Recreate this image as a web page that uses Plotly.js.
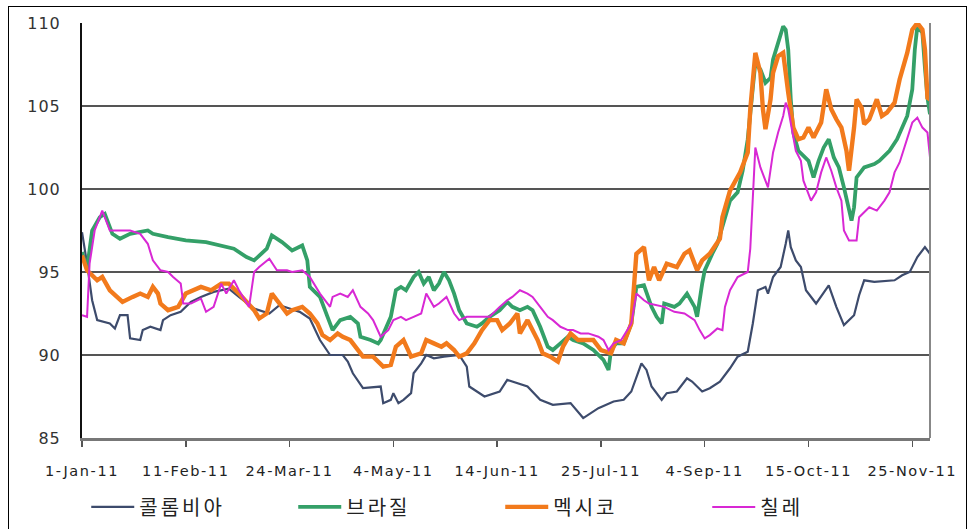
<!DOCTYPE html>
<html>
<head>
<meta charset="utf-8">
<script src="https://cdn.plot.ly/plotly-3.0.1.min.js"></script>
<style>
  html, body { margin: 0; padding: 0; background: #fff; }
  #wrap { position: relative; width: 971px; height: 529px; overflow: hidden; }
  #chart { position: absolute; left: 0; top: 0; width: 971px; height: 529px; }
  #frame { position: absolute; left: 8px; top: 6px; width: 959px; height: 540px; border: 1.5px solid #000; pointer-events: none; box-sizing: border-box; }
  .xtick text { letter-spacing: 1.6px; }
  .ytick text { letter-spacing: 1px; }
  .legendtext { letter-spacing: 3px; }
</style>
</head>
<body>
<div id="wrap">
  <div id="chart"></div>
  <div id="frame"></div>
</div>
<script>
// Series names (legend)
const seriesNames = ['콜롬비아', '브라질', '멕시코', '칠레'];

// Day offsets from 1-Jan-2011 and index values
const colombiaDays = [0,2,4,6,11,13,15,18,19,23,24,27,31,32,35,39,43,47,52,58,62,68,74,78,82,86,90,94,98,103,105,107,111,118,119,122,123,125,127,130,131,134,136,139,143,149,152,153,159,165,168,176,181,186,193,198,204,210,214,217,221,223,225,229,231,235,239,241,245,248,252,256,259,263,265,267,270,271,273,276,278,279,280,282,284,286,290,295,298,301,305,307,309,313,321,324,327,330,333,335];
const colombiaVals = [97.4,95.5,93.3,92.1,91.9,91.6,92.4,92.4,91.0,90.9,91.5,91.7,91.5,92.1,92.4,92.6,93.2,93.5,93.8,94.0,93.5,92.8,92.5,93.0,92.8,92.6,92.2,90.9,90.0,90.0,89.6,88.9,88.0,88.1,87.1,87.3,87.7,87.1,87.3,87.7,88.9,89.5,90.0,89.8,89.9,90.0,89.3,88.1,87.5,87.8,88.5,88.1,87.3,87.0,87.1,86.2,86.8,87.2,87.3,87.8,89.5,89.1,88.1,87.3,87.7,87.8,88.6,88.4,87.8,88.0,88.4,89.2,89.9,90.2,91.9,93.9,94.1,93.7,94.7,95.3,96.7,97.5,96.5,95.7,95.3,93.9,93.1,94.2,92.9,91.8,92.4,93.6,94.5,94.4,94.5,94.8,95.0,95.9,96.5,96.1];

const brazilDays = [0,2,4,7,9,12,15,19,26,28,34,41,49,60,65,68,73,75,79,83,87,89,90,94,97,99,102,106,109,110,114,117,118,121,122,124,126,128,131,133,135,137,139,141,143,145,147,149,152,156,158,161,165,168,170,173,176,178,181,184,186,189,192,194,198,202,206,208,209,211,214,217,219,222,225,227,229,230,234,236,239,242,243,245,246,249,251,256,259,261,263,265,266,268,270,272,273,275,277,278,279,280,281,283,287,289,291,293,295,297,299,301,303,304,305,306,309,313,315,319,322,324,326,328,329,330,332,333,334,335];
const brazilVals = [96.2,95.2,97.5,98.3,98.5,97.3,97.0,97.3,97.5,97.3,97.1,96.9,96.8,96.4,95.9,95.7,96.4,97.2,96.8,96.3,96.6,95.7,94.1,93.5,92.3,91.5,92.1,92.3,91.9,91.1,90.9,90.7,90.9,91.9,92.3,93.9,94.1,93.9,94.7,95.0,94.3,94.7,93.9,94.3,95.0,94.5,93.7,92.7,91.9,91.7,91.9,92.3,92.7,93.2,92.9,92.7,92.9,92.7,91.7,90.5,90.3,90.7,91.1,90.9,90.7,90.3,89.7,89.1,90.3,90.7,90.7,91.9,94.1,94.2,92.9,92.3,91.9,93.1,92.9,93.1,93.7,92.9,92.3,94.3,95.1,96.1,96.7,99.3,99.8,101.1,103.0,106.1,107.6,107.2,106.4,106.7,107.8,108.8,109.8,109.6,108.4,105.4,103.4,102.3,101.7,100.7,101.7,102.5,103.0,101.9,101.3,100.1,98.6,98.1,98.9,100.7,101.3,101.5,101.7,102.3,103.0,103.7,104.4,106.0,108.4,109.8,109.4,107.3,105.5,104.5];

const mexicoDays = [0,2,6,8,11,14,16,20,23,26,28,30,31,34,38,41,47,51,55,58,62,68,70,73,75,78,81,83,87,90,93,95,98,101,103,106,109,111,115,119,122,124,127,130,134,136,139,142,144,147,149,152,155,158,161,164,166,169,172,173,176,180,182,185,188,190,193,196,198,202,205,209,211,214,217,219,222,224,226,228,231,235,238,240,243,245,248,252,253,256,260,263,264,266,268,269,270,272,273,275,277,278,279,281,283,285,287,289,292,294,296,298,300,302,303,305,306,308,309,311,314,316,318,321,323,326,328,330,332,333,334,335];
const mexicoVals = [96.0,95.1,94.5,94.7,93.9,93.5,93.2,93.5,93.7,93.5,94.1,93.7,93.1,92.7,92.9,93.7,94.1,93.9,94.3,94.3,93.7,92.7,92.2,92.5,93.7,93.1,92.5,92.7,92.9,92.5,91.9,91.2,90.9,91.3,91.1,90.9,90.3,89.9,89.9,89.3,89.4,90.5,90.9,89.9,90.1,90.9,90.7,90.5,90.7,90.3,89.9,90.1,90.7,91.5,92.1,92.1,91.5,91.9,92.5,91.3,92.1,90.9,90.1,89.9,89.6,90.5,91.3,90.9,90.9,90.9,90.3,90.1,90.9,90.7,91.9,96.1,96.5,94.5,95.3,94.5,95.5,95.3,96.1,96.3,95.1,95.7,96.1,97.0,98.3,99.9,101.0,102.2,104.8,108.2,107.0,104.8,103.6,105.4,107.0,108.0,108.2,107.2,105.8,103.7,103.0,103.1,103.7,103.1,104.0,106.0,104.8,104.2,103.7,102.3,101.1,103.7,105.4,104.9,103.9,104.2,105.4,104.4,104.6,105.2,106.6,108.2,109.6,110.0,109.6,108.4,105.5,105.4];

const chileDays = [0,2,3,5,8,11,19,23,26,28,31,34,36,39,40,43,47,49,52,55,57,60,62,66,68,70,74,77,81,83,87,90,94,98,99,102,105,107,110,113,115,118,121,123,126,128,131,134,136,139,141,144,147,149,152,157,161,165,168,170,173,176,178,181,184,186,189,192,194,197,200,204,206,208,210,213,217,219,222,224,230,234,238,242,244,246,248,251,253,254,256,259,263,264,265,266,268,270,271,273,275,277,278,279,281,282,284,285,288,290,292,294,296,298,300,301,303,306,307,309,311,314,317,319,321,323,326,328,330,332,334,335];
const chileVals = [92.4,92.3,95.5,97.5,98.7,97.5,97.5,97.3,96.7,95.7,95.1,95.0,94.7,94.3,93.1,93.1,93.4,92.6,92.9,94.3,93.7,94.5,93.9,92.9,95.0,95.3,95.8,95.1,95.1,95.0,95.1,94.7,93.7,92.9,93.5,93.7,93.5,93.9,92.9,92.5,92.1,91.1,91.5,92.1,92.3,92.1,92.3,92.5,93.7,92.9,93.1,93.5,92.5,92.1,92.3,92.3,92.3,92.9,93.3,93.5,93.9,93.7,93.5,92.9,92.3,92.1,91.7,91.5,91.5,91.3,91.3,91.1,90.9,90.3,90.7,90.9,91.9,93.7,93.3,93.1,92.9,92.6,92.5,92.1,91.5,91.0,91.2,91.6,91.5,92.9,93.9,94.7,95.0,96.4,99.8,102.5,101.3,100.5,100.1,102.2,103.4,104.4,105.2,104.8,103.0,102.3,101.7,100.5,99.3,99.8,101.0,101.9,101.1,100.1,99.3,97.5,96.9,96.9,98.3,98.6,98.9,98.7,99.3,99.8,101.0,101.6,103.0,104.0,104.3,103.7,103.4,101.9];

// Axis ticks
const tickDays = [0,41,82,123,164,205,246,287,328];
const tickLabels = ['1-Jan-11','11-Feb-11','24-Mar-11','4-May-11','14-Jun-11','25-Jul-11','4-Sep-11','15-Oct-11','25-Nov-11'];
const yTicks = [85,90,95,100,105,110];

function toDate(d) {
  const t = new Date(Date.UTC(2011, 0, 1 + d));
  return t.toISOString().slice(0, 10);
}

const colors = ['#3d4b6c', '#34a068', '#f27a1c', '#d828d4'];
const widths = [2.2, 3.8, 4.4, 2];
const allDays = [colombiaDays, brazilDays, mexicoDays, chileDays];
const allVals = [colombiaVals, brazilVals, mexicoVals, chileVals];

const traces = seriesNames.map((n, i) => ({
  type: 'scatter',
  mode: 'lines',
  name: n,
  x: allDays[i].map(toDate),
  y: allVals[i],
  line: { color: colors[i], width: widths[i] },
  hoverinfo: 'skip'
}));

const layout = {
  width: 971, height: 529,
  margin: { l: 82, r: 41, t: 23, b: 91, autoexpand: false },
  paper_bgcolor: 'rgba(0,0,0,0)',
  plot_bgcolor: 'rgba(0,0,0,0)',
  showlegend: true,
  font: { family: 'Liberation Sans, Arial, sans-serif', color: '#222' },
  xaxis: {
    type: 'date',
    range: [toDate(0), toDate(335)],
    tickvals: tickDays.map(toDate),
    ticktext: tickLabels,
    showgrid: false,
    zeroline: false,
    showline: true,
    linecolor: '#777',
    linewidth: 3,
    ticks: 'outside',
    ticklen: 6,
    tickwidth: 1.5,
    tickcolor: '#555',
    ticklabelstandoff: 12,
    automargin: false,
    tickfont: { size: 14.5, color: '#222', family: 'DejaVu Sans, sans-serif' }
  },
  yaxis: {
    range: [85, 110],
    tickvals: yTicks,
    showgrid: true,
    gridcolor: '#555',
    gridwidth: 1.6,
    zeroline: false,
    showline: true,
    linecolor: '#111',
    linewidth: 2,
    ticks: '',
    ticklabelstandoff: 16,
    automargin: false,
    tickfont: { size: 16, color: '#333', family: 'DejaVu Sans, sans-serif' }
  },
  shapes: [
    { type: 'line', xref: 'paper', yref: 'paper', x0: 1, x1: 1, y0: 0, y1: 1, line: { color: '#888', width: 2 } }
  ],
  legend: {
    orientation: 'h',
    x: 0.005, xanchor: 'left',
    y: -0.166, yanchor: 'middle',
    itemwidth: 43,
    entrywidth: 149,
    entrywidthmode: 'pixels',
    font: { size: 20, color: '#222', family: 'Noto Sans CJK KR, sans-serif' },
    bgcolor: 'rgba(0,0,0,0)'
  }
};

Plotly.newPlot('chart', traces, layout, { staticPlot: true, displayModeBar: false });
</script>
</body>
</html>
